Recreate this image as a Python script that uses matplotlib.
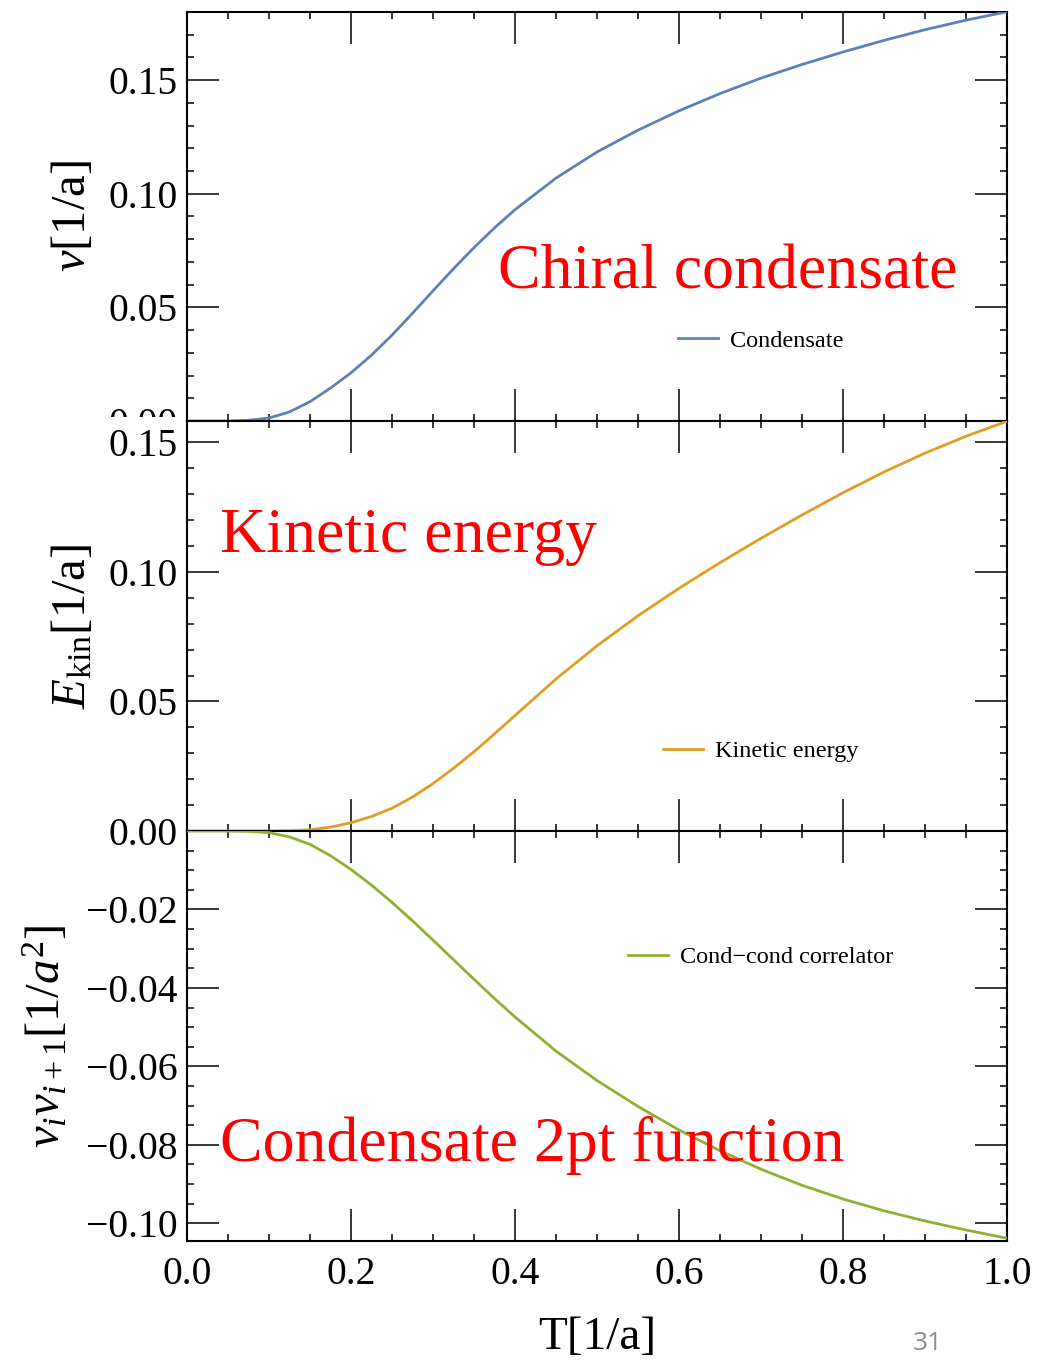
import matplotlib
matplotlib.use("Agg")
import matplotlib.pyplot as plt
from matplotlib.ticker import MultipleLocator, FuncFormatter
from matplotlib.transforms import Bbox, TransformedBbox

# ---------------- data ----------------
T = [0.0, 0.025, 0.05, 0.075, 0.1, 0.125, 0.15, 0.175, 0.2, 0.225, 0.25,
     0.275, 0.3, 0.325, 0.35, 0.375, 0.4, 0.45, 0.5, 0.55, 0.6, 0.65, 0.7,
     0.75, 0.8, 0.85, 0.9, 0.95, 1.0]
condensate = [0.0, 0.0, 0.0, 0.0003, 0.0013, 0.0040, 0.0085, 0.0145, 0.0212,
              0.0290, 0.0378, 0.0474, 0.0573, 0.0670, 0.0763, 0.0850, 0.0930,
              0.1069, 0.1184, 0.1280, 0.1365, 0.1441, 0.1509, 0.1569, 0.1624,
              0.1675, 0.1722, 0.1764, 0.1801]
kinetic = [0.0, 0.0, 0.0, 0.0, 0.0, 0.0001, 0.0005, 0.0015, 0.0032, 0.0056,
           0.0088, 0.0131, 0.0183, 0.0242, 0.0306, 0.0375, 0.0446, 0.0587,
           0.0715, 0.0831, 0.0937, 0.1036, 0.1130, 0.1220, 0.1306, 0.1386,
           0.1459, 0.1524, 0.1582]
correlator = [0.0, 0.0, 0.0, -0.0001, -0.0004, -0.0015, -0.0034, -0.0063,
              -0.0098, -0.0138, -0.0182, -0.0229, -0.0278, -0.0328, -0.0378,
              -0.0427, -0.0474, -0.0561, -0.0636, -0.0702, -0.0762, -0.0815,
              -0.0862, -0.0903, -0.0938, -0.0968, -0.0994, -0.1017, -0.1038]

series_labels = ["Condensate", "Kinetic energy", "Cond\u2212cond correlator"]
titles = ["Chiral condensate", "Kinetic energy", "Condensate 2pt function"]
ylabels = [r"$v$[1/a]", r"$E_{\mathrm{kin}}$[1/a]", r"$v_i v_{i+1}[1/a^2]$"]
xlabel = "T[1/a]"
colors = ["#5E81B5", "#E19C24", "#8FB032"]

# ---------------- style ----------------
plt.rcParams["font.family"] = ["Liberation Serif", "DejaVu Serif"]
plt.rcParams["mathtext.fontset"] = "custom"
plt.rcParams["mathtext.rm"] = "Liberation Serif"
plt.rcParams["mathtext.it"] = "Liberation Serif:italic"
plt.rcParams["mathtext.bf"] = "Liberation Serif:bold"
plt.rcParams["axes.unicode_minus"] = True

W, H = 1061, 1360
fig = plt.figure(figsize=(W / 100, H / 100), dpi=100)

left, right = 187 / W, 1007 / W
edges = [12, 421, 831, 1241]
axes = []
for i in range(3):
    top = 1 - edges[i] / H
    bot = 1 - edges[i + 1] / H
    ax = fig.add_axes([left, bot, right - left, top - bot])
    axes.append(ax)

ylims = [(0, 0.18), (0, 0.1583), (-0.1045, 0)]
ymajor = [0.05, 0.05, 0.02]
yminor = [0.01, 0.01, 0.005]
series = [condensate, kinetic, correlator]
legend_pos = [(0.70, 0.196), (0.70, 0.194), (0.70, 0.692)]
title_pos = [(0.379, 0.325), (0.040, 0.681), (0.040, 0.195)]
ylabel_x = [-0.112, -0.112, -0.143]


def fmt2(v, pos):
    if abs(v) < 1e-9:
        return "0.00"
    return f"{v:.2f}".replace("-", "\u2212")


def fmt3(v, pos):
    if abs(v) < 1e-9:
        return ""
    return f"{v:.2f}".replace("-", "\u2212")


for i, ax in enumerate(axes):
    ax.plot(T, series[i], color=colors[i], lw=2.0, label=series_labels[i],
            solid_joinstyle="round", clip_on=True, zorder=3)
    ax.set_xlim(0, 1)
    ax.set_ylim(*ylims[i])
    ax.xaxis.set_major_locator(MultipleLocator(0.2))
    ax.xaxis.set_minor_locator(MultipleLocator(0.05))
    ax.yaxis.set_major_locator(MultipleLocator(ymajor[i]))
    ax.yaxis.set_minor_locator(MultipleLocator(yminor[i]))
    ax.yaxis.set_major_formatter(FuncFormatter(fmt3 if i == 2 else fmt2))
    ax.tick_params(which="both", direction="in", top=True, right=True,
                   width=1.1, labelsize=28.5)
    ax.tick_params(axis="y", pad=7)
    ax.tick_params(axis="x", pad=11)
    ax.tick_params(which="major", length=23)
    ax.tick_params(which="minor", length=5.2)
    for sp in ax.spines.values():
        sp.set_linewidth(1.5)
    if i < 2:
        ax.tick_params(axis="x", labelbottom=False)
    else:
        ax.xaxis.set_major_formatter(FuncFormatter(lambda v, p: f"{v:.1f}"))
        ax.set_xlabel(xlabel, fontsize=34, labelpad=17)
    ax.set_ylabel(ylabels[i], fontsize=35)
    ax.yaxis.set_label_coords(ylabel_x[i], 0.5)
    ax.legend(loc="center", bbox_to_anchor=legend_pos[i], frameon=False,
              fontsize=17.5, handlelength=1.63, handletextpad=0.5)
    ax.text(title_pos[i][0], title_pos[i][1], titles[i], transform=ax.transAxes,
            color="#FF0000", fontsize=46, ha="left", va="baseline", zorder=5)

fig.text(928 / W, 1 - 1343 / H, "31", ha="center", va="center",
         color="#8C8C8C", fontsize=19, family=["Open Sans", "DejaVu Sans"])

# Clip the lowest tick label of the top panel (partly hidden in the reference)
fig.canvas.draw()
clip = TransformedBbox(Bbox([[0, 1 - 417 / H], [1, 1]]), fig.transFigure)
for t in axes[0].yaxis.get_major_ticks():
    if abs(t.get_loc()) < 1e-9:
        t.label1.set_clip_box(clip)
        t.label1.set_clip_on(True)

fig.savefig("out.png", dpi=100)
